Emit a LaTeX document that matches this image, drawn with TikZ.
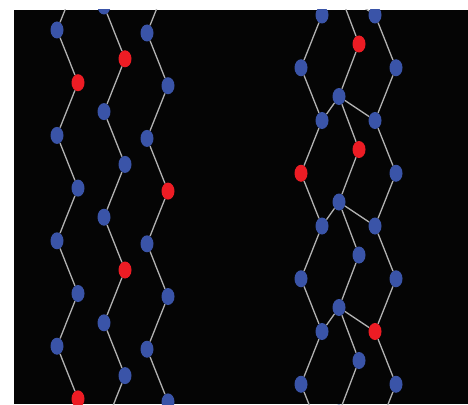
\documentclass[tikz,border=0pt]{standalone}
\usepackage{tikz}
\usetikzlibrary{shapes.geometric}

\definecolor{atomblue}{RGB}{58,84,168}
\definecolor{atomred}{RGB}{237,28,36}
\definecolor{bondgray}{RGB}{178,178,178}
\definecolor{bgblack}{RGB}{5,5,5}

\begin{document}
\begin{tikzpicture}[x=1pt,y=-1pt]
    \useasboundingbox (0,0) rectangle (468,404);
    \fill[bgblack] (14,10) rectangle (468,404);
    \clip (14,10) rectangle (468,404);
    \begin{scope}[every node/.style={shape=ellipse,fill=atomblue,draw=none,
        inner sep=0pt,minimum width=13pt,minimum height=17pt},
        red/.style={fill=atomred},
        bond/.style={bondgray,line width=1.3pt}]
      %%%%% THE THREE SINGLE CHAINS
      \node (a0) at (78,-22.7) {};
      \node (a1) at (57,30) {};
      \node[red] (a2) at (78,82.7) {};
      \node (a3) at (57,135.4) {};
      \node (a4) at (78,188.1) {};
      \node (a5) at (57,240.8) {};
      \node (a6) at (78,293.5) {};
      \node (a7) at (57,346.2) {};
      \node[red] (a8) at (78,398.9) {};
      \node (b1) at (104,6) {};
      \node[red] (b2) at (125,58.8) {};
      \node (b3) at (104,111.6) {};
      \node (b4) at (125,164.4) {};
      \node (b5) at (104,217.2) {};
      \node[red] (b6) at (125,270) {};
      \node (b7) at (104,322.8) {};
      \node (b8) at (125,375.6) {};
      \node (b9) at (104,428.4) {};
      \node (c0) at (168,-19.7) {};
      \node (c1) at (147,33) {};
      \node (c2) at (168,85.7) {};
      \node (c3) at (147,138.4) {};
      \node[red] (c4) at (168,191.1) {};
      \node (c5) at (147,243.8) {};
      \node (c6) at (168,296.5) {};
      \node (c7) at (147,349.2) {};
      \node (c8) at (168,401.9) {};
      \draw[bond] (a0) -- (a1) -- (a2) -- (a3) -- (a4) -- (a5) -- (a6) -- (a7) -- (a8);
      \draw[bond] (b1) -- (b2) -- (b3) -- (b4) -- (b5) -- (b6) -- (b7) -- (b8) -- (b9);
      \draw[bond] (c0) -- (c1) -- (c2) -- (c3) -- (c4) -- (c5) -- (c6) -- (c7) -- (c8);
      %%%%% THE LINKED DOUBLE CHAIN
      \node (l0) at (301,-37.75) {};
      \node (l1) at (322,15) {};
      \node (l2) at (301,67.75) {};
      \node (l3) at (322,120.5) {};
      \node[red] (l4) at (301,173.25) {};
      \node (l5) at (322,226) {};
      \node (l6) at (301,278.75) {};
      \node (l7) at (322,331.5) {};
      \node (l8) at (301,384.25) {};
      \node (l9) at (322,437) {};
      \node (r0) at (396,-37.75) {};
      \node (r1) at (375,15) {};
      \node (r2) at (396,67.75) {};
      \node (r3) at (375,120.5) {};
      \node (r4) at (396,173.25) {};
      \node (r5) at (375,226) {};
      \node (r6) at (396,278.75) {};
      \node[red] (r7) at (375,331.5) {};
      \node (r8) at (396,384.25) {};
      \node (r9) at (375,437) {};
      \node (h0) at (339,-9) {};
      \node[red] (m1) at (359,44) {};
      \node (h1) at (339,96.5) {};
      \node[red] (m2) at (359,149.5) {};
      \node (h2) at (339,202) {};
      \node (m3) at (359,255) {};
      \node (h3) at (339,307.5) {};
      \node (m4) at (359,360.5) {};
      \node (h4) at (339,413) {};
      \draw[bond] (l0) -- (l1) -- (l2) -- (l3) -- (l4) -- (l5) -- (l6) -- (l7) -- (l8) -- (l9);
      \draw[bond] (r0) -- (r1) -- (r2) -- (r3) -- (r4) -- (r5) -- (r6) -- (r7) -- (r8) -- (r9);
      \draw[bond] (h0) -- (m1) -- (h1) -- (m2) -- (h2) -- (m3) -- (h3) -- (m4) -- (h4);
      % Links from the middle to both sides
      \draw[bond] (l1) -- (h0) -- (r1);
      \draw[bond] (l3) -- (h1) -- (r3);
      \draw[bond] (l5) -- (h2) -- (r5);
      \draw[bond] (l7) -- (h3) -- (r7);
    \end{scope}
\end{tikzpicture}
\end{document}
